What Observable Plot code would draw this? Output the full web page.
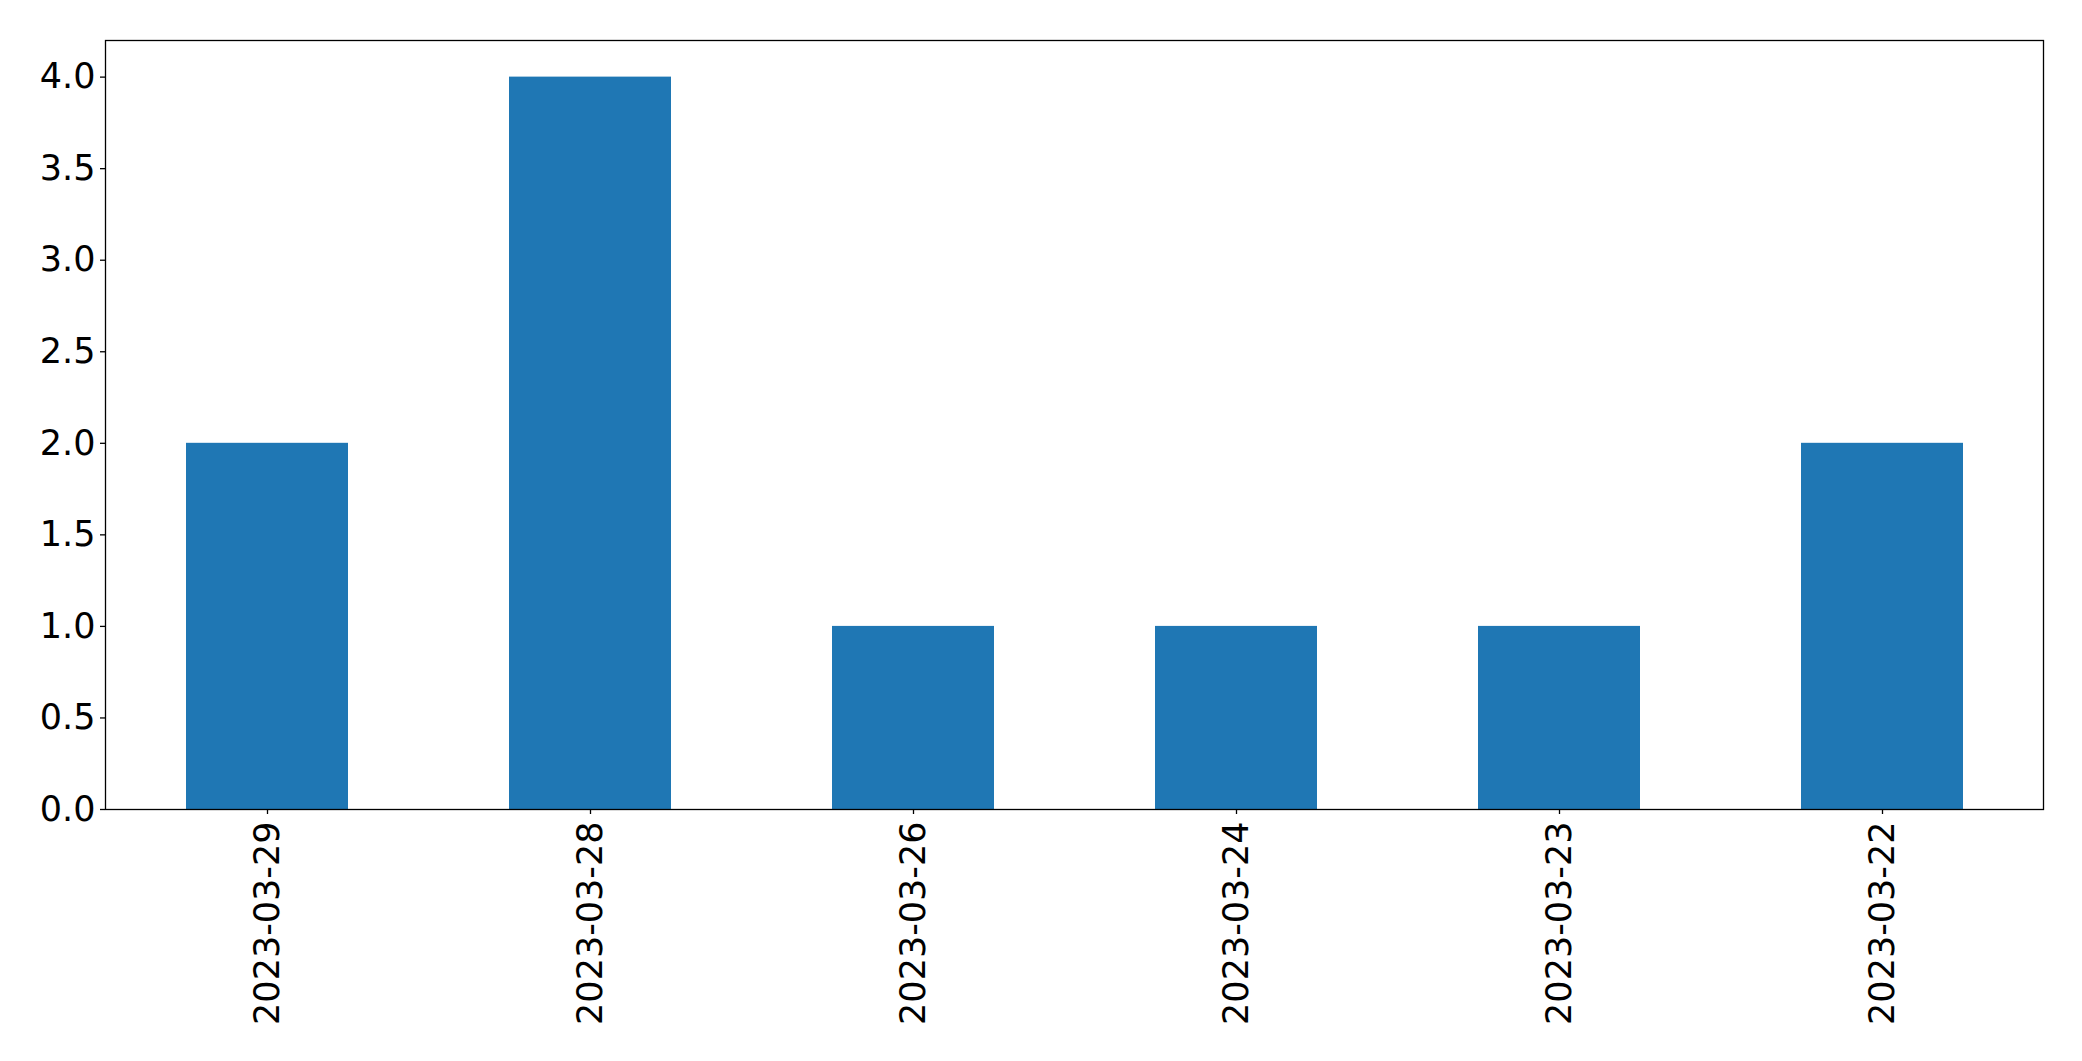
<!DOCTYPE html>
<html>
<head>
<meta charset="utf-8">
<script src="https://cdn.jsdelivr.net/npm/d3@7"></script>
<script src="https://cdn.jsdelivr.net/npm/@observablehq/plot@0.6"></script>
<style>
  html, body { margin: 0; padding: 0; background: #fff; }
  #chart svg { display: block; }
</style>
</head>
<body>
<div id="chart"></div>
<script>
const dates = ["2023-03-29", "2023-03-28", "2023-03-26", "2023-03-24", "2023-03-23", "2023-03-22"];
const counts = [2, 4, 1, 1, 1, 2];
const yTicks = [0, 0.5, 1, 1.5, 2, 2.5, 3, 3.5, 4];

const data = dates.map((d, i) => ({date: d, count: counts[i]}));

const fontSize = 35;
const chart = Plot.plot({
  width: 2082,
  height: 1061,
  marginLeft: 105,
  marginRight: 39,
  marginTop: 40,
  marginBottom: 252,
  style: {fontFamily: "DejaVu Sans", fontSize: fontSize + "px", color: "#000", background: "#fff"},
  x: {domain: dates, paddingInner: 0.5, paddingOuter: 0.25, label: null},
  y: {domain: [0, 4.2], label: null},
  marks: [
    Plot.barY(data, {x: "date", y: "count", fill: "#1f77b4"}),
    Plot.frame({stroke: "#000", strokeWidth: 1.3}),
    Plot.axisY({ticks: yTicks, tickFormat: d3.format(".1f"), tickSize: 5, tickPadding: 5, fontSize: fontSize, label: null, stroke: "#000", strokeWidth: 1.3}),
    Plot.axisX({tickRotate: -90, tickSize: 5, tickPadding: 7, fontSize: fontSize, label: null, stroke: "#000", strokeWidth: 1.3})
  ]
});
document.getElementById("chart").appendChild(chart);
</script>
</body>
</html>
